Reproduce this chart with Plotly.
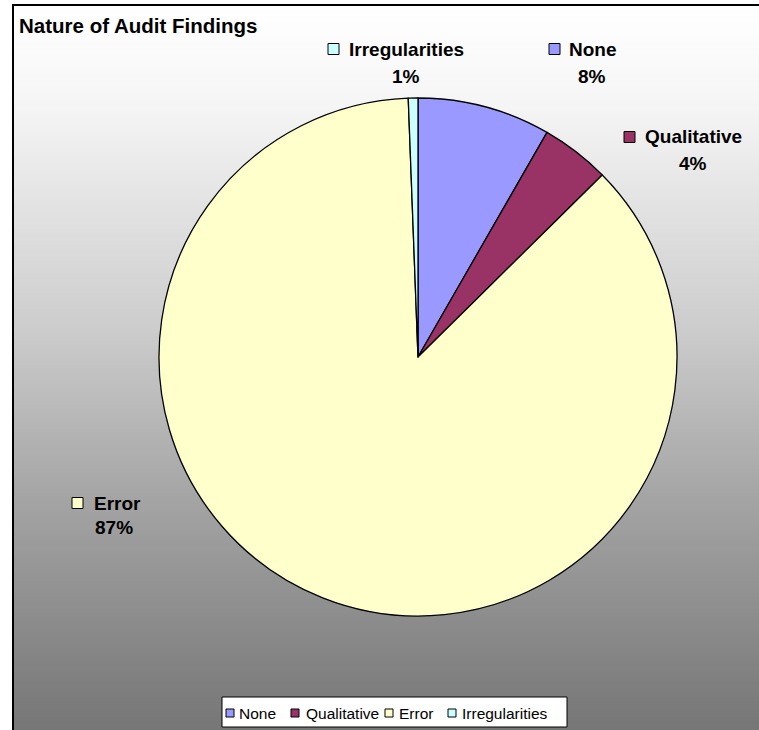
import plotly.graph_objects as go

# ---- data ----
categories = ["None", "Qualitative", "Error", "Irregularities"]
values = [8.3, 4.3, 86.8, 0.6]
colors = ["#9999FF", "#993366", "#FFFFCC", "#CCFFFF"]
title_text = "Nature of Audit Findings"

W, H = 759, 730


def px(x):
    return x / W


def py(y):
    return 1 - y / H


total = sum(values)
pct_labels = [f"{v / total * 100:.0f}%" for v in values]

fig = go.Figure()

# pie: centre (418,357), radius 259
cx, cy, r = 418, 357, 259
fig.add_trace(go.Pie(
    labels=categories,
    values=values,
    sort=False,
    direction="clockwise",
    rotation=0,
    marker=dict(colors=colors, line=dict(color="#000000", width=1.3)),
    textinfo="none",
    hoverinfo="label+percent",
    showlegend=False,
    domain=dict(x=[px(cx - r), px(cx + r)], y=[py(cy + r), py(cy - r)]),
))

shapes = []
# gradient background (white at top -> gray at bottom)
stops = [(5, 255), (100, 246), (330, 204), (500, 164), (730, 118)]


def gray_at(y):
    for (y0, g0), (y1, g1) in zip(stops[:-1], stops[1:]):
        if y0 <= y <= y1:
            return g0 + (g1 - g0) * (y - y0) / (y1 - y0)
    return stops[-1][1]


step = 4
y = 5
while y < H + 10:
    g = int(round(gray_at(min(y + step / 2, 730))))
    shapes.append(dict(type="rect", xref="paper", yref="paper",
                       x0=px(13), x1=1.05, y0=py(y + step + 0.5), y1=py(y),
                       fillcolor=f"rgb({g},{g},{g})", line=dict(width=0),
                       layer="below"))
    y += step

# chart border
shapes.append(dict(type="rect", xref="paper", yref="paper",
                   x0=px(13), x1=1.05, y0=-0.05, y1=py(5),
                   line=dict(color="#000000", width=2), fillcolor="rgba(0,0,0,0)",
                   layer="above"))

annotations = []
# title
annotations.append(dict(text=f"<b>{title_text}</b>", xref="paper", yref="paper",
                        x=px(17), y=py(25), xanchor="left", yanchor="middle",
                        showarrow=False,
                        font=dict(family="Arial, Liberation Sans", size=20.5, color="#000000")))

# data labels: (square left x, square centre y, name-text left x, percent centre x, percent centre y)
label_pos = {
    "None": (549, 49, 567, 592, 76),
    "Qualitative": (624, 137, 643, 693, 164),
    "Error": (72, 503, 92, 114, 527),
    "Irregularities": (328, 49, 347, 406, 76),
}
sq = 11
for cat, col, pct in zip(categories, colors, pct_labels):
    sx, sy, tx, pxc, pyc = label_pos[cat]
    shapes.append(dict(type="rect", xref="paper", yref="paper",
                       x0=px(sx), x1=px(sx + sq), y0=py(sy + sq / 2), y1=py(sy - sq / 2),
                       fillcolor=col, line=dict(color="#000000", width=1), layer="above"))
    annotations.append(dict(text=f"<b>{cat}</b>", xref="paper", yref="paper",
                            x=px(tx), y=py(sy), xanchor="left", yanchor="middle",
                            showarrow=False,
                            font=dict(family="Arial, Liberation Sans", size=19, color="#000000")))
    annotations.append(dict(text=f"<b>{pct}</b>", xref="paper", yref="paper",
                            x=px(pxc), y=py(pyc), xanchor="center", yanchor="middle",
                            showarrow=False,
                            font=dict(family="Arial, Liberation Sans", size=19, color="#000000")))

# legend box
shapes.append(dict(type="rect", xref="paper", yref="paper",
                   x0=px(222), x1=px(567), y0=py(727), y1=py(697),
                   fillcolor="#FFFFFF", line=dict(color="#000000", width=1), layer="above"))
legend_pos = {"None": (226, 237), "Qualitative": (291, 304),
              "Error": (385, 397), "Irregularities": (448, 460)}
lsq = 8
for cat, col in zip(categories, colors):
    sx, tx = legend_pos[cat]
    shapes.append(dict(type="rect", xref="paper", yref="paper",
                       x0=px(sx), x1=px(sx + lsq), y0=py(713 + lsq / 2), y1=py(713 - lsq / 2),
                       fillcolor=col, line=dict(color="#000000", width=1), layer="above"))
    annotations.append(dict(text=cat, xref="paper", yref="paper",
                            x=px(tx), y=py(713), xanchor="left", yanchor="middle",
                            showarrow=False,
                            font=dict(family="Arial, Liberation Sans", size=15.5, color="#000000")))

fig.update_layout(
    width=W, height=H,
    margin=dict(l=0, r=0, t=0, b=0),
    paper_bgcolor="#FFFFFF",
    plot_bgcolor="rgba(0,0,0,0)",
    shapes=shapes,
    annotations=annotations,
    showlegend=False,
)

fig.write_html("out.html")
